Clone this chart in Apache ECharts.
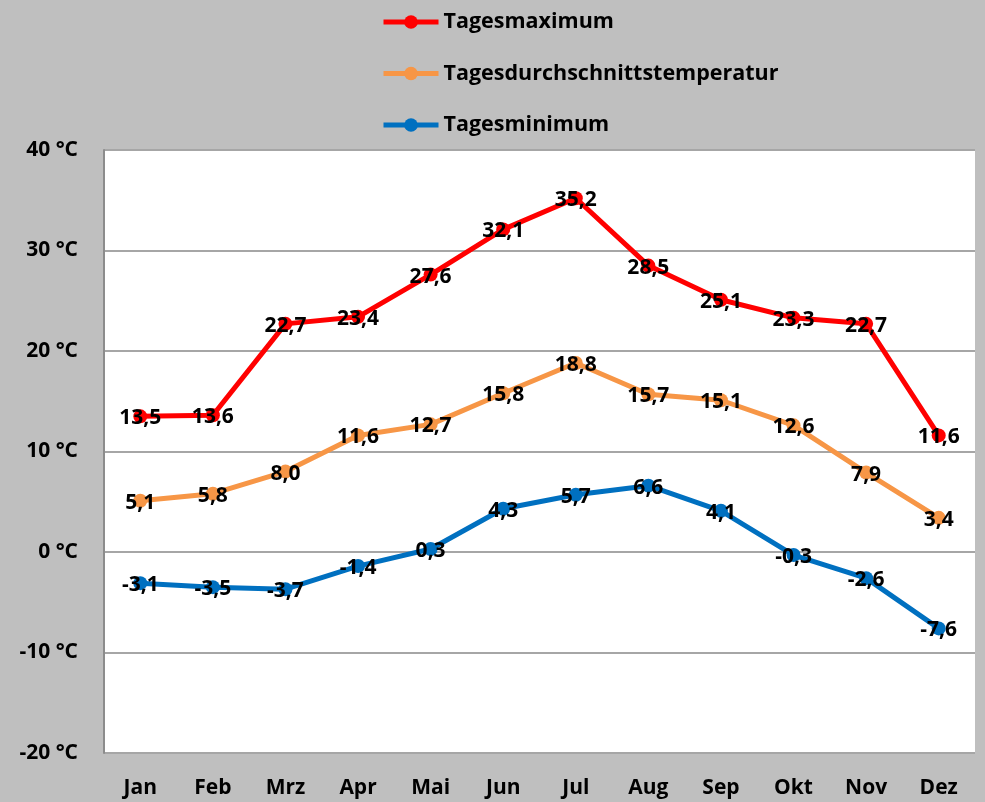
<!DOCTYPE html>
<html>
<head>
<meta charset="utf-8">
<script src="https://cdn.jsdelivr.net/npm/echarts@6/dist/echarts.min.js"></script>
<style>html,body{margin:0;padding:0;background:#bfbfbf;}#c{width:985px;height:802px;}</style>
</head>
<body>
<div id="c"></div>
<script>
const categories = ['Jan','Feb','Mrz','Apr','Mai','Jun','Jul','Aug','Sep','Okt','Nov','Dez'];
const maxTemp = [13.5, 13.6, 22.7, 23.4, 27.6, 32.1, 35.2, 28.5, 25.1, 23.3, 22.7, 11.6];
const avgTemp = [5.1, 5.8, 8.0, 11.6, 12.7, 15.8, 18.8, 15.7, 15.1, 12.6, 7.9, 3.4];
const minTemp = [-3.1, -3.5, -3.7, -1.4, 0.3, 4.3, 5.7, 6.6, 4.1, -0.3, -2.6, -7.6];
const seriesNames = ['Tagesmaximum', 'Tagesdurchschnittstemperatur', 'Tagesminimum'];
const colors = ['#ff0000', '#f79646', '#0070c0'];

const FONT = 'Open Sans';
const chart = echarts.init(document.getElementById('c'));
function mk(name, data, color) {
  return {
    name, type: 'line', data,
    symbol: 'circle', symbolSize: 14,
    lineStyle: { color, width: 5 },
    itemStyle: { color },
    label: {
      show: true, position: 'inside', offset: [0, 2],
      color: '#000', fontFamily: FONT, fontWeight: 'bold', fontSize: 21,
      formatter: p => p.value.toFixed(1).replace('.', ',')
    }
  };
}
chart.setOption({
  backgroundColor: '#bfbfbf',
  animation: false,
  legend: {
    orient: 'vertical', left: 376, top: 6, itemGap: 29.5,
    itemWidth: 55, itemHeight: 17,
    lineStyle: { width: 5 },
    textStyle: { color: '#000', fontFamily: FONT, fontWeight: 'bold', fontSize: 21.5 },
    data: seriesNames
  },
  grid: { left: 104, right: 10, top: 150, bottom: 49, show: true, backgroundColor: '#fff', borderWidth: 0 },
  xAxis: {
    type: 'category', data: categories, boundaryGap: true,
    axisLine: { show: false }, axisTick: { show: false },
    axisLabel: { color: '#000', fontFamily: FONT, fontWeight: 'bold', fontSize: 21, margin: 25 }
  },
  yAxis: {
    type: 'value', min: -20, max: 40, interval: 10,
    axisLine: { show: true, lineStyle: { color: '#8c8c8c', width: 2 } },
    axisTick: { show: false },
    splitLine: { lineStyle: { color: '#a6a6a6', width: 2 } },
    axisLabel: { color: '#000', fontFamily: FONT, fontWeight: 'bold', fontSize: 21, margin: 26,
      formatter: v => v + ' °C' }
  },
  series: [mk(seriesNames[0], maxTemp, colors[0]), mk(seriesNames[1], avgTemp, colors[1]), mk(seriesNames[2], minTemp, colors[2])]
});
</script>
</body>
</html>
